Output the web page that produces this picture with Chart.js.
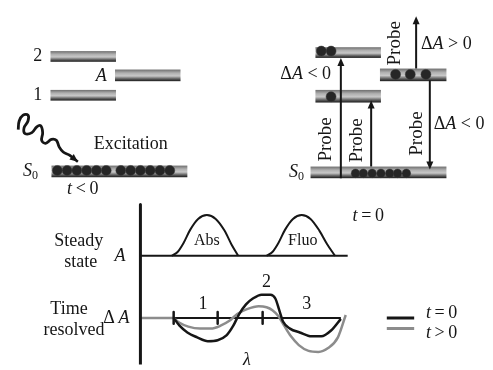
<!DOCTYPE html>
<html><head><meta charset="utf-8">
<script src="https://cdn.jsdelivr.net/npm/chart.js@4/dist/chart.umd.min.js"></script>
<style>html,body{margin:0;padding:0;background:#fff;overflow:hidden;font-family:"Liberation Serif",serif}canvas{display:block}</style>
</head><body>
<canvas id="c" width="493" height="370"></canvas>
<script>
// ---- data (diagram coordinates) ----
const levels = [ // [x0,x1,y0,y1]
  [46,113,47,58],[112,179,66,78],[46,113,87,98],[47,186,165,177],
  [317,384,43,54],[317,384,87,100],[383,451,65,78],[312,451,166,178]
];
const circlesBig = [[53,170],[63,170],[73,170],[83,170],[93,170],[103,170],[118,170],[128,170],[138,170],[148,170],[158,170],[168,170],
  [323,47],[333,47],[333,94],[399,71],[414,71],[430,71]];
const circlesSmall = [[358,173],[366,173],[375,173],[384,173],[393,173],[401,173],[410,173]];
const arrows = [ // [x, yStart, yTip]
  [343,178,54],[374,166,98],[420,65,11],[434,78,169]
];
const squiggle = [[13,128],[14,119],[18,113],[23,113],[23,119],[19,126],[20,132],[27,131],[32,125],[36,124],[38,131],[37,139],[41,142],[47,138],[52,139],[55,146],[59,151],[65,154],[69,157]];
const squiggleTip = [74,161];
const absCurve = [[170,258],[176,254],[182,245],[189,231],[197,220],[206,216],[215,220],[224,232],[231,246],[238,258]];
const fluoCurve = [[267,258],[273,254],[279,245],[286,231],[294,220],[303,216],[312,220],[321,232],[329,246],[337,258]];
const steadyBase = [[138,258],[350,258]];
const tzero = [[172,322],[178,330],[186,337],[196,342],[207,346],[217,345],[226,340],[233,330],[239,318],[246,308],[253,302],[262,298],[271,298],[276,302],[280,314],[284,326],[291,333],[301,337],[313,341],[323,341],[333,335],[343,323]];
const tlater = [[172,322],[178,327],[187,331],[199,333],[210,333],[220,330],[229,325],[237,318],[247,313],[259,310],[267,311],[273,314],[279,320],[285,330],[292,341],[300,350],[310,356],[320,357],[330,353],[340,342],[348,319]];
const dBaseBlack = [[172,322],[343,322]];
const dBaseGray = [[138,322],[172,322]];
const tickX = [172,217,263];
const vAxis = [[138,205],[138,372]];
const legendBlack = [[390,322],[418,322]];
const legendGray = [[390,333],[418,333]];
const FONT = '"Liberation Serif", "DejaVu Serif", serif';
// labels: [text, x, y, align, size, rotate]
const labels = [
  ['2',33,52,'center',18,0],
  ['1',33,93,'center',18,0],
  ['Excitation',128,143,'center',18,0],
  ['Abs',206,243,'center',16,0],
  ['Fluo',304,243,'center',16,0],
  ['Steady',75,243,'center',18,0],
  ['state',77,265,'center',18,0],
  ['Time',65,313,'center',18,0],
  ['resolved',70,335,'center',18,0],
  ['1',202,308,'center',18,0],
  ['2',267,285,'center',18,0],
  ['3',308,308,'center',18,0],
  ['Probe',328,138,'center',19,-1],
  ['Probe',360,139,'center',19,-1],
  ['Probe',421,132,'center',19,-1],
  ['Probe',398,39,'center',19,-1]
];
// rich labels: segments [text, italic, sizeScale, dy]
const richLabels = [
  {x:98,y:73,align:'center',parts:[['A',1,1,0]]},
  {x:18,y:171,align:'left',parts:[['S',1,1,0],['0',0,0.65,4]]},
  {x:290,y:172,align:'left',parts:[['S',1,1,0],['0',0,0.65,4]]},
  {x:63,y:189,align:'left',parts:[['t',1,1,0],['\u2009<\u20090',0,1,0]]},
  {x:333,y:71,align:'right',parts:[['\u0394',0,1,0],['A',1,1,0],[' < 0',0,1,0]]},
  {x:425,y:40,align:'left',parts:[['\u0394',0,1,0],['A',1,1,0],[' > 0',0,1,0]]},
  {x:438,y:122,align:'left',parts:[['\u0394',0,1,0],['A',1,1,0],[' < 0',0,1,0]]},
  {x:117,y:258,align:'center',parts:[['A',1,1,0]]},
  {x:100,y:322,align:'left',parts:[['\u0394',0,1,0],['\u2009A',1,1,0]]},
  {x:355,y:217,align:'left',parts:[['t',1,1,0],['\u2009=\u20090',0,1,0]]},
  {x:430,y:317,align:'left',parts:[['t',1,1,0],['\u2009=\u20090',0,1,0]]},
  {x:430,y:338,align:'left',parts:[['t',1,1,0],['\u2009>\u20090',0,1,0]]},
  {x:247,y:366,align:'center',parts:[['\u03bb',1,1,0]]}
];

const pts = a => a.map(p => ({x:p[0], y:p[1]}));
const INK = '#161616', GRAY = '#8c8c8c';
function line(data, color, width, smooth, order){
  const d = {type:'line', data:pts(data), borderColor:color, borderWidth:width, pointRadius:0, fill:false, order:order||5, borderCapStyle:'butt', borderJoinStyle:'round'};
  if (smooth === 'm') d.cubicInterpolationMode = 'monotone';
  else if (smooth) d.tension = smooth;
  return d;
}
const datasets = [
  line(steadyBase, INK, 2),
  line(absCurve, INK, 2, 'm'),
  line(fluoCurve, INK, 2, 'm'),
  line(vAxis, INK, 3),
  line(dBaseGray, GRAY, 2.5),
  line(dBaseBlack, INK, 2),
  line(tlater, GRAY, 2.5, 'm', 3),
  line(tzero, INK, 2.5, 'm', 2),
  line(legendBlack, INK, 3),
  line(legendGray, GRAY, 3),
  line(squiggle, INK, 2.8, 0.4),
  line([squiggle[squiggle.length-1], squiggleTip], INK, 2.5),
  ...tickX.map(x => line([[x,316],[x,328]], INK, 2.5, 0, 1)),
  ...arrows.map(a => line([[a[0],a[1]],[a[0], a[2] + (a[2]<a[1]?6:-6)]], INK, 2)),
  {type:'scatter', data:pts(circlesBig), pointRadius:5, pointBackgroundColor:'#262626', pointBorderColor:'#3a3a3a', pointBorderWidth:0.5, order:1},
  {type:'scatter', data:pts(circlesSmall), pointRadius:4.3, pointBackgroundColor:'#262626', pointBorderColor:'#3a3a3a', pointBorderWidth:0.5, order:1}
];

const diagram = {
  id:'diagram',
  beforeDatasetsDraw(chart){
    const {ctx, scales:{x, y}} = chart;
    ctx.save();
    levels.forEach(l => {
      const x0=x.getPixelForValue(l[0]), x1=x.getPixelForValue(l[1]);
      const y0=y.getPixelForValue(l[2]), y1=y.getPixelForValue(l[3]);
      const g = ctx.createLinearGradient(0,y0,0,y1);
      g.addColorStop(0,'#6e6e6e'); g.addColorStop(0.3,'#b0b0b0'); g.addColorStop(0.55,'#c8c8c8');
      g.addColorStop(0.8,'#606060'); g.addColorStop(1,'#1a1a1a');
      ctx.fillStyle = g;
      ctx.fillRect(x0,y0,x1-x0,y1-y0);
    });
    ctx.restore();
  },
  afterDraw(chart){
    const {ctx, scales:{x, y}} = chart;
    ctx.save();
    ctx.fillStyle = INK;
    const head = (tx, ty, dirx, diry) => {
      const L=8, W=3.5;
      const px=-diry, py=dirx;
      ctx.beginPath();
      ctx.moveTo(tx,ty);
      ctx.lineTo(tx-dirx*L+px*W, ty-diry*L+py*W);
      ctx.lineTo(tx-dirx*L-px*W, ty-diry*L-py*W);
      ctx.closePath(); ctx.fill();
    };
    arrows.forEach(a => {
      head(x.getPixelForValue(a[0]), y.getPixelForValue(a[2]), 0, a[2]<a[1]?-1:1);
    });
    {
      const s = squiggle[squiggle.length-1];
      const dx=squiggleTip[0]-s[0], dy=squiggleTip[1]-s[1], n=Math.hypot(dx,dy);
      head(x.getPixelForValue(squiggleTip[0]), y.getPixelForValue(squiggleTip[1]), dx/n, dy/n);
    }
    ctx.textBaseline='middle';
    labels.forEach(l => {
      ctx.save();
      ctx.font = l[4] + 'px ' + FONT; ctx.textAlign = l[3];
      ctx.translate(x.getPixelForValue(l[1]), y.getPixelForValue(l[2]));
      if (l[5]) ctx.rotate(-Math.PI/2);
      ctx.fillText(l[0],0,0);
      ctx.restore();
    });
    richLabels.forEach(r => {
      const base = 18;
      const fontFor = p => (p[1]?'italic ':'') + Math.round(base*p[2]) + 'px ' + FONT;
      let w = 0;
      r.parts.forEach(p => { ctx.font = fontFor(p); w += ctx.measureText(p[0]).width; });
      let cx = x.getPixelForValue(r.x);
      if (r.align==='center') cx -= w/2; else if (r.align==='right') cx -= w;
      const cy = y.getPixelForValue(r.y);
      ctx.textAlign='left';
      r.parts.forEach(p => { ctx.font = fontFor(p); ctx.fillText(p[0], cx, cy + p[3]); cx += ctx.measureText(p[0]).width; });
    });
    ctx.restore();
  }
};

function draw(){
  new Chart(document.getElementById('c'), {
    type:'line',
    data:{datasets},
    options:{
      responsive:false, animation:false, events:[],
      layout:{padding:0},
      plugins:{legend:{display:false}, tooltip:{enabled:false}},
      scales:{
        x:{type:'linear', min:0, max:493, display:false},
        y:{type:'linear', min:0, max:370, reverse:true, display:false}
      }
    },
    plugins:[diagram]
  });
}
Promise.all([
  document.fonts.load('18px "Liberation Serif"'),
  document.fonts.load('italic 18px "Liberation Serif"')
]).then(draw, draw);
</script>
</body></html>
